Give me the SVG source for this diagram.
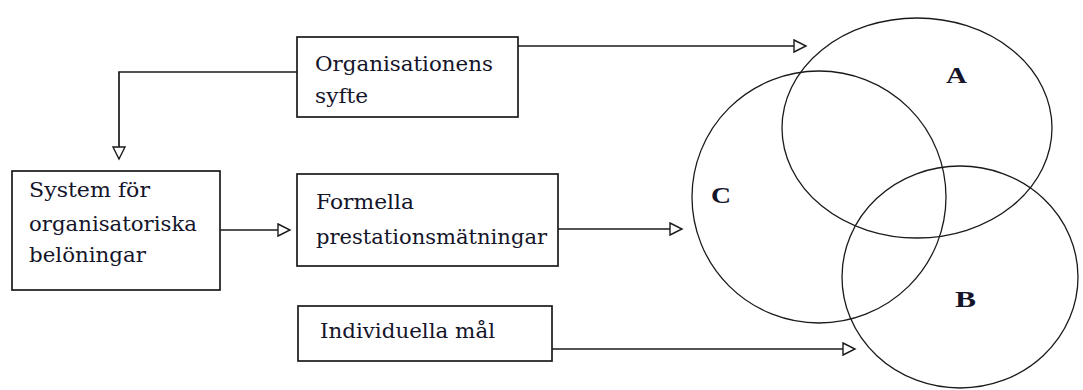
<svg xmlns="http://www.w3.org/2000/svg" width="1083" height="390" viewBox="0 0 1083 390">
  <style>
    .box { fill: #ffffff; stroke: #1a1a1a; stroke-width: 1.7; }
    .lbl { font-family: 'DejaVu Serif', 'Liberation Serif', serif; font-size: 21px; fill: #15152a; }
    .set { fill: none; stroke: #1a1a1a; stroke-width: 1.3; }
    .setlbl { font-family: 'Liberation Serif', 'DejaVu Serif', serif; font-size: 24px; font-weight: bold; fill: #15152a; }
    .wire { fill: none; stroke: #1a1a1a; stroke-width: 1.7; }
  </style>
  <defs>
    <marker id="openArrow" markerUnits="userSpaceOnUse" markerWidth="16" markerHeight="16" refX="13" refY="7" orient="auto">
      <path d="M1,1 L13,7 L1,13 Z" fill="#ffffff" stroke="#1a1a1a" stroke-width="1.4"/>
    </marker>
  </defs>
  <rect width="1083" height="390" fill="#ffffff"/>

  <!-- overlapping sets -->
  <g id="set-A">
    <ellipse class="set" cx="917" cy="128" rx="135" ry="110"/>
    <text class="setlbl" x="946" y="83" textLength="21" lengthAdjust="spacingAndGlyphs">A</text>
  </g>
  <g id="set-C">
    <ellipse class="set" cx="819" cy="197" rx="127" ry="126"/>
    <text class="setlbl" x="711" y="203" textLength="20" lengthAdjust="spacingAndGlyphs">C</text>
  </g>
  <g id="set-B">
    <ellipse class="set" cx="960" cy="277" rx="118" ry="111"/>
    <text class="setlbl" x="955" y="307" textLength="21" lengthAdjust="spacingAndGlyphs">B</text>
  </g>

  <!-- connectors -->
  <g id="connectors">
    <path class="wire" d="M518,46 H806" marker-end="url(#openArrow)"/>
    <path class="wire" d="M297,72 H119 V159" marker-end="url(#openArrow)"/>
    <path class="wire" d="M220,230 H290" marker-end="url(#openArrow)"/>
    <path class="wire" d="M558,229 H682" marker-end="url(#openArrow)"/>
    <path class="wire" d="M552,349 H855" marker-end="url(#openArrow)"/>
  </g>

  <!-- boxes -->
  <g id="organisationens-syfte">
    <rect class="box" x="297" y="37" width="221" height="80"/>
    <text class="lbl" x="315" y="71" textLength="178" lengthAdjust="spacingAndGlyphs">Organisationens</text>
    <text class="lbl" x="315" y="103" textLength="53" lengthAdjust="spacingAndGlyphs">syfte</text>
  </g>
  <g id="system-beloningar">
    <rect class="box" x="12" y="171" width="208" height="119"/>
    <text class="lbl" x="29" y="197" textLength="121" lengthAdjust="spacingAndGlyphs">System för</text>
    <text class="lbl" x="29" y="231" textLength="168" lengthAdjust="spacingAndGlyphs">organisatoriska</text>
    <text class="lbl" x="29" y="262" textLength="117" lengthAdjust="spacingAndGlyphs">belöningar</text>
  </g>
  <g id="formella-matningar">
    <rect class="box" x="297" y="174" width="261" height="92"/>
    <text class="lbl" x="316" y="209" textLength="98" lengthAdjust="spacingAndGlyphs">Formella</text>
    <text class="lbl" x="316" y="244" textLength="231" lengthAdjust="spacingAndGlyphs">prestationsmätningar</text>
  </g>
  <g id="individuella-mal">
    <rect class="box" x="298" y="306" width="254" height="55"/>
    <text class="lbl" x="320" y="338" textLength="175" lengthAdjust="spacingAndGlyphs">Individuella mål</text>
  </g>
</svg>
